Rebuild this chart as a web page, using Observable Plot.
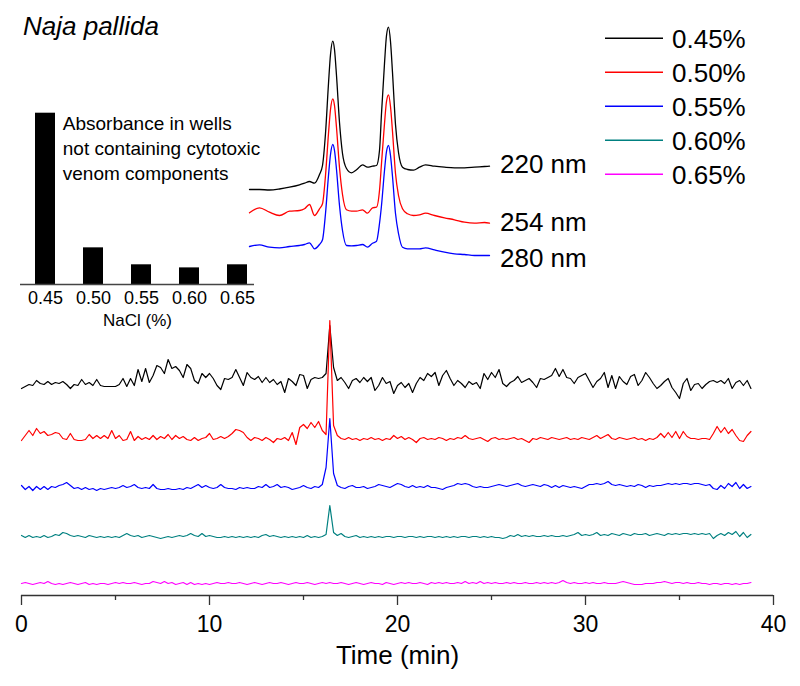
<!DOCTYPE html>
<html>
<head>
<meta charset="utf-8">
<script src="https://cdn.jsdelivr.net/npm/d3@7"></script>
<script src="https://cdn.jsdelivr.net/npm/@observablehq/plot@0.6"></script>
<style>
  body { margin: 0; background: #fff; }
  #chart { position: relative; width: 800px; height: 686px; overflow: hidden; background: #fff; }
  #chart > svg { position: absolute; }
</style>
</head>
<body>
<div id="chart"></div>
<script>
// ---------------- data ----------------
const titleText = "Naja pallida";
const seriesLabels = ["0.45%", "0.50%", "0.55%", "0.60%", "0.65%"];
const seriesColors = ["#000000", "#ff0000", "#0000ff", "#008080", "#ff00ff"];
const sampleInterval = 0.2; // min between samples of the main traces
const timeTicks = [0, 10, 20, 30, 40];
const timeMinorTicks = [5, 15, 25, 35];

// main traces (signal, arbitrary units, stacked), one value every 0.2 min from 0 to 38.8 min
const trace045 = [
  207,209,211,210,215,212,211,214,211,213,
  212,214,211,207,211,210,216,211,213,210,
  216,210,209,209,209,209,211,217,209,217,
  210,226,214,227,213,220,230,228,222,236,
  227,229,225,218,231,227,215,212,222,218,
  222,217,210,206,217,216,218,226,218,210,
  223,218,216,219,213,218,213,216,211,214,
  203,217,214,210,221,220,207,216,218,217,
  218,222,270,228,215,218,213,207,215,217,
  213,218,214,218,205,210,218,212,214,202,
  210,213,208,212,203,212,218,215,222,219,
  223,210,220,225,217,210,215,212,208,214,
  211,213,207,222,216,223,218,226,212,209,
  213,215,219,213,215,217,213,208,217,216,
  218,220,227,219,226,218,217,212,218,220,
  222,215,208,214,217,223,208,220,207,219,
  214,211,219,221,210,215,223,218,212,207,
  210,214,217,208,203,197,212,217,205,211,
  212,207,211,214,215,213,215,212,217,207,
  213,215,210,215,207
];
const trace050 = [
  155,160,165,160,167,162,164,160,161,163,
  162,157,156,162,156,155,155,156,161,157,
  160,157,160,157,165,157,160,155,156,164,
  155,159,156,158,156,160,156,159,157,161,
  156,160,157,159,156,155,158,155,157,158,
  162,156,157,159,157,159,162,166,165,163,
  158,155,158,157,155,158,156,153,157,156,
  158,155,163,151,168,171,167,173,168,174,
  165,161,275,170,160,157,156,158,156,157,
  155,157,156,158,156,157,155,157,156,160,
  157,159,156,158,156,153,157,158,156,157,
  156,158,157,155,157,156,158,157,160,157,
  156,157,158,156,154,157,158,156,157,156,
  157,158,156,157,155,153,157,156,158,157,
  156,158,157,156,157,158,156,157,156,158,
  157,156,158,160,157,159,161,157,156,158,
  157,156,157,158,156,157,155,157,156,158,
  162,158,163,158,164,157,164,159,157,157,
  156,157,157,156,162,169,163,168,162,166,
  160,155,154,160,164
];
const trace055 = [
  110,106,109,105,109,106,109,106,109,108,
  110,111,113,110,107,108,106,108,106,107,
  105,107,106,107,108,107,108,110,108,109,
  111,108,107,108,107,111,107,106,106,107,
  106,106,107,106,108,107,109,111,108,110,
  108,107,108,111,108,107,107,106,108,107,
  108,107,107,109,108,111,108,109,111,108,
  109,108,106,107,108,110,108,107,109,108,
  111,128,177,122,110,108,107,109,110,108,
  108,109,107,108,109,111,110,109,108,110,
  112,111,109,108,110,108,109,108,110,108,
  108,107,106,108,109,110,112,111,112,111,
  109,108,109,108,108,109,110,111,110,109,
  110,111,112,110,109,110,111,110,109,111,
  110,108,110,108,110,109,108,109,108,107,
  109,111,111,112,111,112,114,111,110,111,
  110,109,110,109,111,110,108,110,109,110,
  110,111,112,111,112,111,112,112,111,112,
  112,111,110,111,107,106,110,107,112,109,
  113,107,111,107,109
];
const trace060 = [
  60,58,60,58,59,58,60,58,59,61,
  60,63,62,60,59,60,59,58,60,59,
  58,59,58,59,58,59,58,60,62,60,
  59,60,58,59,60,59,58,57,58,59,
  58,59,60,59,60,62,60,59,62,59,
  60,59,58,58,59,58,59,58,59,58,
  59,58,59,58,60,61,59,60,59,58,
  59,58,59,58,59,58,60,58,59,58,
  59,61,90,63,60,62,59,58,59,60,
  58,59,58,59,58,59,58,59,59,58,
  59,59,58,59,59,58,59,58,59,59,
  58,59,58,59,58,59,58,59,59,58,
  59,59,58,59,58,59,58,58,57,58,
  60,59,61,59,60,59,60,59,59,60,
  59,60,59,59,60,59,60,61,63,60,
  61,60,61,63,60,61,60,62,61,60,
  62,61,60,62,61,61,62,60,61,62,
  61,60,62,61,62,61,62,62,61,62,
  61,62,61,62,57,60,62,60,63,61,
  64,59,63,58,61
];
const trace065 = [
  12,13,12,11,12,13,12,14,12,11,
  12,11,12,13,12,11,12,13,11,12,
  11,12,12,11,12,13,12,13,12,12,
  13,12,11,12,12,14,13,12,14,12,
  13,11,12,13,11,13,11,12,11,12,
  11,12,13,12,12,13,12,12,13,12,
  11,12,13,12,11,12,13,12,12,13,
  12,11,12,13,12,12,13,12,11,12,
  13,12,13,12,12,13,12,11,12,13,
  12,11,12,13,12,12,11,13,12,11,
  12,13,12,13,12,12,13,12,11,13,
  12,13,12,13,12,12,13,12,14,12,
  13,12,14,12,13,12,13,12,12,13,
  12,13,12,12,13,12,12,13,12,13,
  12,13,12,13,15,13,12,13,12,12,
  13,12,13,12,12,13,12,12,12,13,
  14,13,12,11,11,11,12,12,12,13,
  13,14,13,12,13,13,12,13,12,12,
  13,12,12,11,12,12,11,12,12,11,
  12,11,12,12,13
];

// inset bar chart
const naclLevels = ["0.45", "0.50", "0.55", "0.60", "0.65"];
const wellAbsorbance = [1.00, 0.214, 0.115, 0.097, 0.115];
const barNote = "Absorbance in wells\nnot containing cytotoxic\nvenom components";
const barAxisLabel = "NaCl (%)";

// inset chromatograms (time in arbitrary units, absorbance in arbitrary stacked units)
const wavelengthLabels = ["220 nm", "254 nm", "280 nm"];
const wavelengthColors = ["#000000", "#ff0000", "#0000ff"];
const insetTime = [0,1,2,3,4,5,5.5,6,6.5,7,7.3,7.6,7.9,8.1,8.33,8.5,8.7,9,9.3,9.7,10.2,10.7,11.3,11.8,12.3,12.7,13,13.2,13.5,13.7,13.9,14.1,14.3,14.6,14.9,15.3,15.8,16.4,17,17.6,18.5,19.5,20.5,21.5,22.5,23.5,24];
const abs220 = [91,91,90.5,91.5,93.3,95.7,97.3,99,97.3,106,115,147,197,226,239.3,231,205,158,127,112,107.7,110.7,115.7,113.3,114.3,115,130,167,217,245,253.3,239,208,156,128,113.3,111,110.3,113.3,115.7,114.3,113.3,112.7,112.7,113.3,114,114.3];
const abs254 = [67.7,72.7,68.3,65,69.3,70,71.7,76,65,71.7,76.7,105,147,171,181.7,175,153,113,86,70.7,69.3,69.3,70.7,67.3,72.7,73.3,90,117,157,179,185.7,174,149,107,85,71.7,66.7,65,65.7,67.3,65,62.7,60.7,58.3,57.3,58,57.3];
const abs280 = [34,35.7,33.3,32.7,34,35,36,37.7,31.7,36,40.7,67,105,126,136,130,111,75,50,35,34.7,35,36,33.3,37.3,39.3,57,75,110,129,135,125,104,67,47,33.3,31.7,31.7,31.7,32.7,30.7,28.3,26.7,26,25,25,25];

// ---------------- drawing ----------------
const FONT = '"Liberation Sans", Arial, Helvetica, sans-serif';
const baseStyle = {background: "transparent", fontFamily: FONT, color: "#000", overflow: "visible"};
const chart = document.getElementById("chart");

const traces = [trace045, trace050, trace055, trace060, trace065];
const mainData = traces.map((arr, k) => arr.map((v, i) => ({time: i * sampleInterval, signal: v, series: seriesLabels[k]})));

const mainPlot = Plot.plot({
  width: 800, height: 686,
  marginLeft: 21, marginRight: 27, marginTop: 295, marginBottom: 91,
  style: baseStyle,
  x: {domain: [0, 40]},
  y: {domain: [0, 300], axis: null},
  marks: [
    Plot.ruleY([0], {stroke: "#333", strokeWidth: 1.3}),
    Plot.axisX({ticks: timeMinorTicks, tickSize: 5, tickFormat: () => "", label: null, stroke: "#333", strokeWidth: 1.3}),
    Plot.axisX({ticks: timeTicks, tickSize: 10, tickPadding: 10, fontSize: 23, label: null, stroke: "#333", strokeWidth: 1.3, fill: "#000"}),
    Plot.text([ "Time (min)" ], {text: d => d, frameAnchor: "bottom", dy: 50, lineAnchor: "top", fontSize: 26, fill: "#000"}),
    ...mainData.map((d, k) => Plot.line(d, {x: "time", y: "signal", stroke: seriesColors[k], strokeWidth: 1.2}))
  ]
});
mainPlot.style.left = "0px"; mainPlot.style.top = "0px";
chart.appendChild(mainPlot);

const insetLines = [abs220, abs254, abs280];
const insetPlot = Plot.plot({
  width: 260, height: 280,
  marginLeft: 9, marginRight: 11, marginTop: 0, marginBottom: 0,
  style: baseStyle,
  x: {domain: [0, 24], axis: null},
  y: {domain: [0, 280], axis: null},
  marks: insetLines.map((arr, k) => Plot.line(arr.map((v, i) => ({t: insetTime[i], a: v})),
    {x: "t", y: "a", stroke: wavelengthColors[k], strokeWidth: 1.3, curve: "monotone-x"}))
});
insetPlot.style.left = "240px"; insetPlot.style.top = "0px";
chart.appendChild(insetPlot);

const barPlot = Plot.plot({
  width: 270, height: 340,
  marginLeft: 20, marginRight: 16, marginTop: 112.7, marginBottom: 56,
  style: baseStyle,
  x: {domain: naclLevels, range: [20, 261.25], paddingInner: 0.585, paddingOuter: 0.2925, align: 0.5},
  y: {domain: [0, 1], axis: null},
  marks: [
    Plot.barY(naclLevels.map((c, i) => ({nacl: c, a: wellAbsorbance[i]})), {x: "nacl", y: "a", fill: "#000"}),
    Plot.ruleY([0], {stroke: "#444", strokeWidth: 1.3}),
    Plot.axisX({tickSize: 0, tickPadding: 7, fontSize: 18, label: null, fill: "#000"}),
    Plot.text([barAxisLabel], {text: d => d, frameAnchor: "bottom", dy: 29, lineAnchor: "top", fontSize: 17, fill: "#000"}),
    Plot.text([barNote], {text: d => d, frameAnchor: "top-left", dx: 42.3, dy: -1.3, textAnchor: "start", lineAnchor: "top", lineHeight: 1.316, fontSize: 19, fill: "#000"})
  ]
});
barPlot.style.left = "0px"; barPlot.style.top = "0px";
chart.appendChild(barPlot);

// overlay: title, legend, wavelength labels
const overlay = d3.create("svg")
  .attr("width", 800).attr("height", 686)
  .style("left", "0px").style("top", "0px")
  .style("font-family", FONT).style("overflow", "visible");
overlay.append("text").attr("x", 23).attr("y", 35)
  .attr("font-size", 26).attr("font-style", "italic").attr("fill", "#000").text(titleText);

const legend = overlay.append("g");
seriesLabels.forEach((lab, i) => {
  const yy = 38.3 + i * 34;
  legend.append("line").attr("x1", 605).attr("x2", 663).attr("y1", yy).attr("y2", yy)
    .attr("stroke", seriesColors[i]).attr("stroke-width", 1.5);
  legend.append("text").attr("x", 672).attr("y", yy + 9.2).attr("font-size", 26).attr("fill", "#000").text(lab);
});
const wlBaselines = [173.3, 230.7, 266.7];
wavelengthLabels.forEach((lab, i) => {
  overlay.append("text").attr("x", 500).attr("y", wlBaselines[i]).attr("font-size", 26).attr("fill", "#000").text(lab);
});
chart.appendChild(overlay.node());
</script>
</body>
</html>
